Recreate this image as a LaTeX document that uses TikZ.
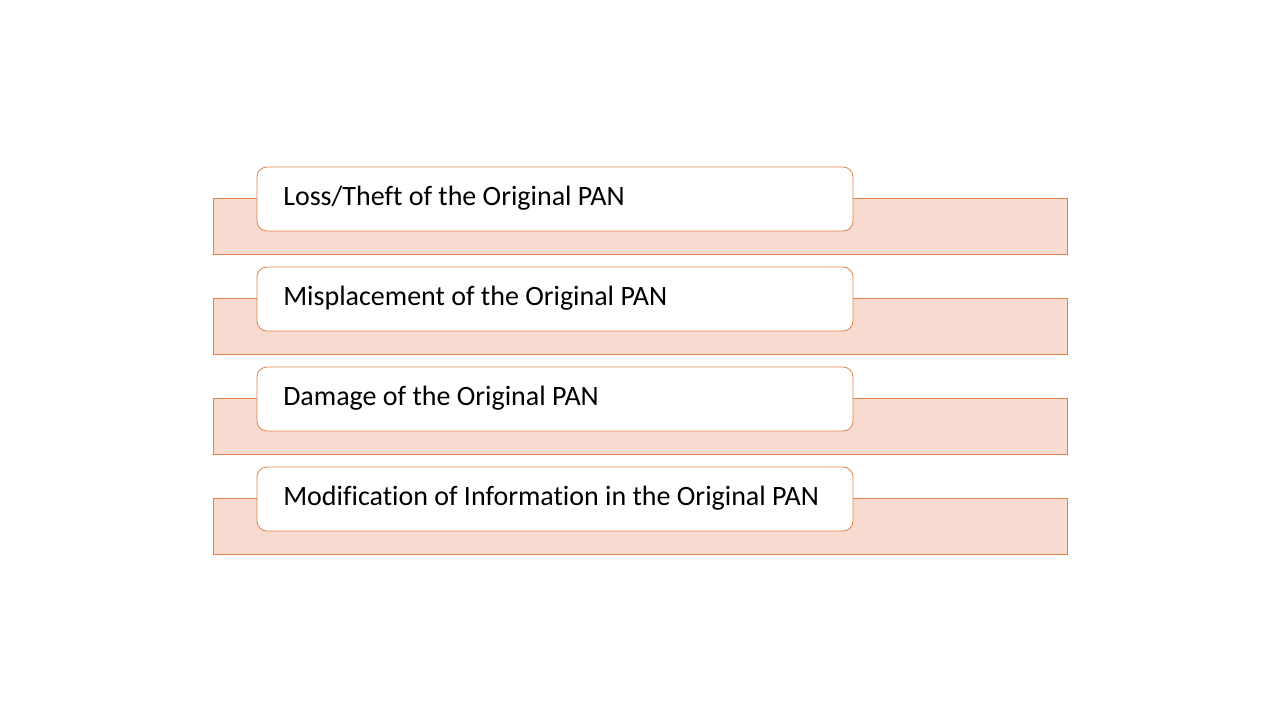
\documentclass[tikz,border=0pt]{standalone}
\usepackage{fontspec}
\setmainfont[Ligatures=NoCommon]{Carlito}
\definecolor{bandfill}{HTML}{F8DAD0}
\definecolor{edge}{HTML}{E0844A}
\begin{document}
\begin{tikzpicture}[x=0.75pt,y=-0.75pt,
  band/.style={draw=edge,fill=bandfill,line width=0.6pt},
  card/.style={draw=edge,fill=white,rounded corners=7.5pt,line width=0.6pt},
  lbl/.style={anchor=west,inner sep=0pt,font=\fontsize{21}{25}\selectfont}]
\useasboundingbox (0,0) rectangle (1280,720);
\fill[white] (0,0) rectangle (1280,720);
\foreach \i/\t in {0/{Loss/Theft of the Original PAN},1/{Misplacement of the Original PAN},2/{Damage of the Original PAN},3/{Modification of Information in the Original PAN}}{
  \draw[band] (213,198+100*\i) rectangle (1067,254+100*\i);
  \draw[card] (257,167+100*\i) rectangle (853,231+100*\i);
  \node[lbl] (t\i) at (283,198+100*\i) {\t};
}
\end{tikzpicture}
\end{document}
